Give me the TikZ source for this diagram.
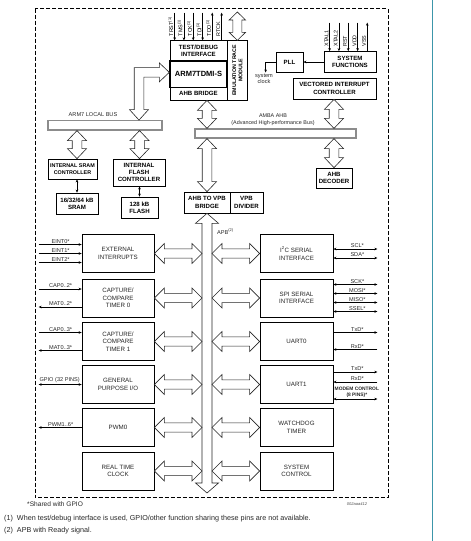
\documentclass[tikz,border=0pt]{standalone}
\usepackage{fontspec}
\setmainfont{Liberation Sans}
\usetikzlibrary{calc,arrows.meta}
\definecolor{tealline}{RGB}{60,150,170}
\newcommand\hollowarrow[5]{%
 \coordinate (hA) at #1; \coordinate (hB) at #2;
 \coordinate (hA1) at ($(hA)!#3pt!(hB)$);
 \coordinate (hB1) at ($(hB)!#3pt!(hA)$);
 \filldraw[hollowstyle] (hA) -- ($(hA1)!#4pt!90:(hB)$) -- ($(hA1)!#5pt!90:(hB)$) -- ($(hB1)!#5pt!-90:(hA)$) -- ($(hB1)!#4pt!-90:(hA)$) -- (hB) -- ($(hB1)!#4pt!90:(hA)$) -- ($(hB1)!#5pt!90:(hA)$) -- ($(hA1)!#5pt!-90:(hB)$) -- ($(hA1)!#4pt!-90:(hB)$) -- cycle;
}
\tikzset{
 box/.style={draw, line width=0.7pt, fill=white, inner sep=0pt, align=center, text=black!85, font=\fontsize{6.2}{7.7}\selectfont},
 topbox/.style={box, text=black, font=\fontsize{6.1}{7.3}\selectfont\bfseries},
 busbar/.style={draw=black!45, line width=1.2pt, fill=white, inner sep=0pt},
 hollowstyle/.style={draw=black!85, line width=0.6pt, fill=white, line join=miter},
 pinin/.style={line width=0.5pt, -{Stealth[length=3pt,width=2.6pt]}},
 pinboth/.style={line width=0.5pt, {Stealth[length=3pt,width=2.6pt]}-{Stealth[length=3pt,width=2.6pt]}},
 pinlbl/.style={font=\fontsize{5.6}{6}\selectfont, inner sep=0.6pt, anchor=south, text=black!85},
 vpinlbl/.style={font=\fontsize{5.4}{6}\selectfont, inner sep=0.4pt, rotate=90, anchor=south west},
 smalltxt/.style={font=\fontsize{5.6}{6.6}\selectfont, inner sep=0pt, align=center, text=black!85},
 lbox/.style={box, minimum width=72pt, minimum height=38pt},
}
\begin{document}
\begin{tikzpicture}[x=1pt,y=-1pt]
\useasboundingbox (0,0) rectangle (471,541);
\draw[tealline, line width=1pt] (432,0) -- (432,541);
\draw[dash pattern=on 4pt off 2pt, line width=0.7pt] (35,8.5) rectangle (388,497);

% top core
\node[topbox, minimum width=57pt, minimum height=20.3pt] (tdi) at (198.5,50.85) {TEST/DEBUG\\INTERFACE};
\node[topbox, minimum width=57pt, minimum height=12.3pt] (ahbb) at (198.5,93.85) {AHB BRIDGE};
\node[topbox, minimum width=20.7pt, minimum height=59.3pt] (etm) at (237.35,70.35) {};
\node[rotate=90, inner sep=0pt, align=center, font=\fontsize{5.3}{6.2}\selectfont\bfseries] (etmtxt) at (etm.center) {EMULATION TRACE\\MODULE};
\node[topbox, line width=1.4pt, minimum width=57pt, minimum height=26.7pt, font=\fontsize{7.5}{8}\selectfont\bfseries] (arm) at (198.5,74.35) {ARM7TDMI-S};

% debug pins
\draw[pinin] ($(tdi.north west)+(5,-27.7)$) -- ($(tdi.north west)+(5,0)$);
\draw[pinin] ($(tdi.north west)+(14.3,-27.7)$) -- ($(tdi.north west)+(14.3,0)$);
\draw[pinin] ($(tdi.north west)+(23.6,-27.7)$) -- ($(tdi.north west)+(23.6,0)$);
\draw[pinin] ($(tdi.north west)+(33,-27.7)$) -- ($(tdi.north west)+(33,0)$);
\draw[pinin] ($(tdi.north west)+(42.6,0)$) -- ($(tdi.north west)+(42.6,-27.7)$);
\draw[pinin] ($(tdi.north west)+(52,0)$) -- ($(tdi.north west)+(52,-27.7)$);
\node[vpinlbl] (ltrst) at ($(tdi.north west)+(4.2,-3.5)$) {TRST\textsuperscript{(1)}};
\node[vpinlbl] (ltms) at ($(tdi.north west)+(13.5,-3.5)$) {TMS\textsuperscript{(1)}};
\node[vpinlbl] (ltck) at ($(tdi.north west)+(22.8,-3.5)$) {TCK\textsuperscript{(1)}};
\node[vpinlbl] (ltdi) at ($(tdi.north west)+(32.2,-3.5)$) {TDI\textsuperscript{(1)}};
\node[vpinlbl] (ltdo) at ($(tdi.north west)+(41.8,-3.5)$) {TDO\textsuperscript{(1)}};
\node[vpinlbl] (lrtck) at ($(tdi.north west)+(51.2,-3.5)$) {RTCK};

\coordinate (etmtop) at (237.35,12);
\hollowarrow{(etmtop)}{(etm.north)}{8}{8.2}{4.5}

% PLL, system functions, VIC
\node[topbox, minimum width=27pt, minimum height=20pt] (pll) at (289.5,62) {PLL};
\node[topbox, minimum width=52pt, minimum height=21pt] (sysf) at (350,62) {SYSTEM\\FUNCTIONS};
\node[topbox, minimum width=83pt, minimum height=21pt] (vic) at (334.5,88.5) {VECTORED INTERRUPT\\CONTROLLER};
\draw[pinin] (sysf.west) -- (pll.east);
\coordinate (clk) at ($(pll.west)+(-10,10.5)$);
\draw[pinin] (pll.west) -| (clk);
\node[smalltxt, font=\fontsize{5.6}{6}\selectfont] (sysclk) at (264,79) {system\\clock};

\draw[pinin] ($(sysf.north west)+(6,-28.5)$) -- ($(sysf.north west)+(6,0)$);
\draw[pinin] ($(sysf.north west)+(15.3,-28.5)$) -- ($(sysf.north west)+(15.3,0)$);
\draw[pinin] ($(sysf.north west)+(24.6,-28.5)$) -- ($(sysf.north west)+(24.6,0)$);
\draw[pinin] ($(sysf.north west)+(34,-28.5)$) -- ($(sysf.north west)+(34,0)$);
\draw[pinin] ($(sysf.north west)+(43.6,0)$) -- ($(sysf.north west)+(43.6,-28.5)$);
\node[vpinlbl] (lx1) at ($(sysf.north west)+(5.2,-4)$) {XTAL1};
\node[vpinlbl] (lx2) at ($(sysf.north west)+(14.5,-4)$) {XTAL2};
\node[vpinlbl] (lrst) at ($(sysf.north west)+(23.8,-4)$) {RST};
\node[vpinlbl] (lvdd) at ($(sysf.north west)+(33.2,-4)$) {VDD};
\node[vpinlbl] (lvss) at ($(sysf.north west)+(42.8,-4)$) {VSS};

% buses
\node[busbar, minimum width=114pt, minimum height=9.3pt] (lbus) at (105,125.35) {};
\node[busbar, minimum width=161pt, minimum height=9pt] (amba) at (275.5,133.5) {};
\node[smalltxt] (lbuslbl) at (93,115) {ARM7 LOCAL BUS};
\node[smalltxt, font=\fontsize{5.4}{7.4}\selectfont] (ambalbl) at (273,120) {AMBA AHB\\(Advanced High-performance Bus)};

% bent arrow ARM7 <-> local bus
\coordinate (bA) at ($(arm.west)+(0,-2)$);
\coordinate (bB) at ($(lbus.north)+(34,0)$);
\filldraw[hollowstyle] (bA) -- ($(bA)+(-10,-9.5)$) -- ($(bA)+(-10,-4.7)$) -- ($(bB |- bA)+(-4.8,-4.7)$) -- ($(bB)+(-4.8,-10.5)$) -- ($(bB)+(-9.5,-10.5)$) -- (bB) -- ($(bB)+(9.5,-10.5)$) -- ($(bB)+(4.8,-10.5)$) -- ($(bB |- bA)+(4.8,4.7)$) -- ($(bA)+(-10,4.7)$) -- ($(bA)+(-10,9.5)$) -- cycle;

% memories
\node[topbox, minimum width=49pt, minimum height=20pt, font=\fontsize{5.4}{7}\selectfont\bfseries] (sramc) at (72.5,169) {INTERNAL SRAM\\CONTROLLER};
\node[topbox, minimum width=52pt, minimum height=27pt] (flashc) at (139,172.5) {INTERNAL\\FLASH\\CONTROLLER};
\node[topbox, minimum width=42pt, minimum height=21pt] (sram) at (77,203.5) {16/32/64 kB\\SRAM};
\node[topbox, minimum width=37pt, minimum height=21pt] (flash) at (139.5,207.5) {128 kB\\FLASH};
\hollowarrow{(sram.north |- lbus.south)}{(sram.north |- sramc.north)}{10}{9.5}{4.8}
\hollowarrow{(flash.north |- lbus.south)}{(flash.north |- flashc.north)}{10}{9.5}{4.8}
\draw[pinboth] (sram.north |- sramc.south) -- (sram.north);
\draw[pinboth] (flash.north |- flashc.south) -- (flash.north);

% AHB side
\node[topbox, minimum width=46pt, minimum height=21pt] (apbbr) at (207,202.5) {AHB TO VPB\\BRIDGE};
\node[topbox, minimum width=33pt, minimum height=21pt] (vpbdiv) at (246.5,202.5) {VPB\\DIVIDER};
\node[topbox, minimum width=36pt, minimum height=20pt] (ahbdec) at (334,178) {AHB\\DECODER};
\hollowarrow{(apbbr.north |- ahbb.south)}{(apbbr.north |- amba.north)}{10}{9.5}{4.8}
\hollowarrow{(apbbr.north |- amba.south)}{(apbbr.north)}{10}{9.5}{4.8}
\hollowarrow{(ahbdec.north |- vic.south)}{(ahbdec.north |- amba.north)}{10}{9.5}{4.8}
\hollowarrow{(ahbdec.north |- amba.south)}{(ahbdec.north)}{10}{9.5}{4.8}

% APB bus
\coordinate (apbend) at (207,493);
\coordinate (apbL) at (202,0);
\coordinate (apbR) at (212,0);
\hollowarrow{(apbbr.south)}{(apbend)}{10}{11.5}{5}
\node[smalltxt, anchor=west] (apblbl) at (217,231.5) {APB\textsuperscript{(2)}};

% left peripherals
\node[lbox] (extint) at (118,253.5) {EXTERNAL\\INTERRUPTS};
\node[lbox] (tim0) at (118,298) {CAPTURE/\\COMPARE\\TIMER 0};
\node[lbox] (tim1) at (118,341.5) {CAPTURE/\\COMPARE\\TIMER 1};
\node[lbox] (gpio) at (118,384.5) {GENERAL\\PURPOSE I/O};
\node[lbox] (pwm) at (118,427.5) {PWM0};
\node[lbox] (rtc) at (118,471) {REAL TIME\\CLOCK};
% right peripherals
\node[lbox, minimum width=73pt] (i2c) at (296.5,253.5) {I\textsuperscript{2}C SERIAL\\INTERFACE};
\node[lbox, minimum width=73pt] (spi) at (296.5,298) {SPI SERIAL\\INTERFACE};
\node[lbox, minimum width=73pt] (uart0) at (296.5,341.5) {UART0};
\node[lbox, minimum width=73pt] (uart1) at (296.5,384.5) {UART1};
\node[lbox, minimum width=73pt] (wdt) at (296.5,427.5) {WATCHDOG\\TIMER};
\node[lbox, minimum width=73pt] (sysc) at (296.5,471) {SYSTEM\\CONTROL};

\foreach \p in {extint,tim0,tim1,gpio,pwm,rtc}{
 \hollowarrow{(\p.east)}{(\p.east -| apbL)}{10}{10}{4.6}
}
\foreach \p in {i2c,spi,uart0,uart1,wdt,sysc}{
 \hollowarrow{(apbR |- \p.west)}{(\p.west)}{10}{10}{4.6}
}

% left pins
\draw[pinin] ($(extint.west)+(-43,-9)$) -- ($(extint.west)+(0,-9)$);
\draw[pinin] ($(extint.west)+(-43,0)$) -- ($(extint.west)+(0,0)$);
\draw[pinin] ($(extint.west)+(-43,9)$) -- ($(extint.west)+(0,9)$);
\node[pinlbl] (le0) at ($(extint.west)+(-21,-9.6)$) {EINT0*};
\node[pinlbl] (le1) at ($(extint.west)+(-21,-0.6)$) {EINT1*};
\node[pinlbl] (le2) at ($(extint.west)+(-21,8.4)$) {EINT2*};
\draw[pinin] ($(tim0.west)+(-43,-9)$) -- ($(tim0.west)+(0,-9)$);
\draw[pinin] ($(tim0.west)+(0,9)$) -- ($(tim0.west)+(-43,9)$);
\node[pinlbl] (lc0) at ($(tim0.west)+(-21,-9.6)$) {CAP0..2*};
\node[pinlbl] (lm0) at ($(tim0.west)+(-21,8.4)$) {MAT0..2*};
\draw[pinin] ($(tim1.west)+(-43,-9)$) -- ($(tim1.west)+(0,-9)$);
\draw[pinin] ($(tim1.west)+(0,9)$) -- ($(tim1.west)+(-43,9)$);
\node[pinlbl] (lc1) at ($(tim1.west)+(-21,-9.6)$) {CAP0..3*};
\node[pinlbl] (lm1) at ($(tim1.west)+(-21,8.4)$) {MAT0..3*};
\draw[pinboth] ($(gpio.west)+(-43,0)$) -- (gpio.west);
\node[pinlbl] (lgp) at ($(gpio.west)+(-22,-0.6)$) {GPIO (32 PINS)};
\draw[pinin] (pwm.west) -- ($(pwm.west)+(-43,0)$);
\node[pinlbl] (lpwm) at ($(pwm.west)+(-21,-0.6)$) {PWM1..6*};

% right pins
\draw[pinboth] ($(i2c.east)+(0,-4.5)$) -- ($(i2c.east)+(44,-4.5)$);
\draw[pinboth] ($(i2c.east)+(0,4.5)$) -- ($(i2c.east)+(44,4.5)$);
\node[pinlbl] (lscl) at ($(i2c.east)+(24,-5.1)$) {SCL*};
\node[pinlbl] (lsda) at ($(i2c.east)+(24,3.9)$) {SDA*};
\draw[pinboth] ($(spi.east)+(0,-13.5)$) -- ($(spi.east)+(44,-13.5)$);
\draw[pinboth] ($(spi.east)+(0,-4.5)$) -- ($(spi.east)+(44,-4.5)$);
\draw[pinboth] ($(spi.east)+(0,4.5)$) -- ($(spi.east)+(44,4.5)$);
\draw[pinboth] ($(spi.east)+(0,13.5)$) -- ($(spi.east)+(44,13.5)$);
\node[pinlbl] (lsck) at ($(spi.east)+(24,-14.1)$) {SCK*};
\node[pinlbl] (lmosi) at ($(spi.east)+(24,-5.1)$) {MOSI*};
\node[pinlbl] (lmiso) at ($(spi.east)+(24,3.9)$) {MISO*};
\node[pinlbl] (lssel) at ($(spi.east)+(24,12.9)$) {SSEL*};
\draw[pinin] ($(uart0.east)+(0,-9)$) -- ($(uart0.east)+(44,-9)$);
\draw[pinin] ($(uart0.east)+(44,8)$) -- ($(uart0.east)+(0,8)$);
\node[pinlbl] (ltx0) at ($(uart0.east)+(24,-9.6)$) {TxD*};
\node[pinlbl] (lrx0) at ($(uart0.east)+(24,7.4)$) {RxD*};
\draw[pinin] ($(uart1.east)+(0,-12.5)$) -- ($(uart1.east)+(44,-12.5)$);
\draw[pinin] ($(uart1.east)+(44,-2.5)$) -- ($(uart1.east)+(0,-2.5)$);
\draw[pinboth] ($(uart1.east)+(0,14.5)$) -- ($(uart1.east)+(44,14.5)$);
\node[pinlbl] (ltx1) at ($(uart1.east)+(24,-13.1)$) {TxD*};
\node[pinlbl] (lrx1) at ($(uart1.east)+(24,-3.1)$) {RxD*};
\node[pinlbl, align=center, font=\fontsize{4.9}{5.6}\selectfont\bfseries] (lmodem) at ($(uart1.east)+(23.5,13.6)$) {MODEM CONTROL\\(8 PINS)*};

% footnotes
\node[anchor=base west, inner sep=0pt, font=\fontsize{6.6}{7}\selectfont, text=black!85] (fn0) at (27,506.5) {*Shared with GPIO};
\node[inner sep=0pt, font=\fontsize{4}{5}\selectfont\itshape, text=black!70] (code) at (357,504) {002aaa412};
\node[anchor=base west, inner sep=0pt, font=\fontsize{7.2}{8}\selectfont, text=black!85] (fn1) at (4,520.5) {(1)\ \ When test/debug interface is used, GPIO/other function sharing these pins are not available.};
\node[anchor=base west, inner sep=0pt, font=\fontsize{7.2}{8}\selectfont, text=black!85] (fn2) at (4,532.5) {(2)\ \ APB with Ready signal.};
\end{tikzpicture}
\end{document}
